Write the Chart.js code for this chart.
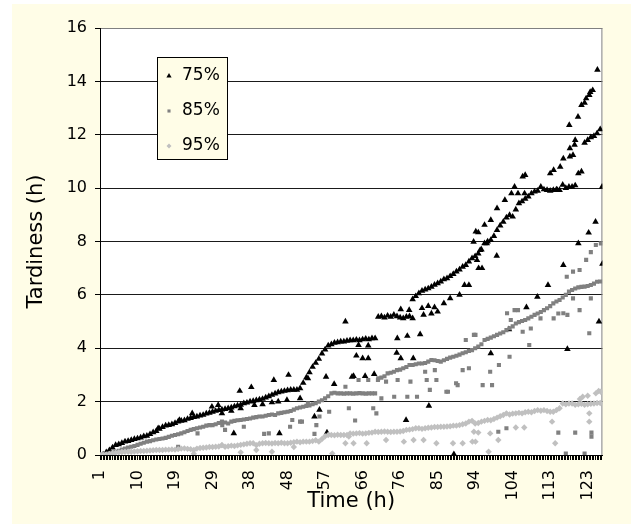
<!DOCTYPE html>
<html>
<head>
<meta charset="utf-8">
<script src="https://cdn.jsdelivr.net/npm/chart.js@4.4.1/dist/chart.umd.min.js"></script>
<style>
  html, body { margin: 0; padding: 0; background: #fff; }
  #wrap { width: 631px; height: 524px; }
</style>
</head>
<body>
<div id="wrap"><canvas id="chart" width="631" height="524"></canvas></div>
<script>
// ---- data (x = sample index, label shown every 12 samples) ----
const tickLabels = ['1', '10', '19', '29', '38', '48', '57', '66', '76', '85', '94', '104', '113', '123'];
const seriesNames = ['75%', '85%', '95%'];

// one value per sample index 0..160
const series75 = [
  0, 0.02, 0.1, 0.18, 0.28, 0.37, 0.4, 0.45, 0.5, 0.52,
  0.56, 0.6, 0.62, 0.65, 0.7, 0.72, 0.78, 0.85, 0.9, 0.98,
  1.05, 1.1, 1.12, 1.15, 1.2, 1.25, 1.28, 1.3, 1.35, 1.38,
  1.42, 1.44, 1.48, 1.5, 1.55, 1.58, 1.62, 1.65, 1.68, 1.7,
  1.72, 1.75, 1.78, 1.82, 1.85, 1.88, 1.94, 1.96, 2.0, 2.02,
  2.05, 2.08, 2.1, 2.15, 2.2, 2.25, 2.3, 2.35, 2.38, 2.4,
  2.42, 2.44, 2.44, 2.44, 2.5, 2.7, 2.9, 3.1, 3.3, 3.45,
  3.6, 3.8, 3.95, 4.1, 4.15, 4.2, 4.22, 4.25, 4.25, 4.28,
  4.3, 4.3, 4.32, 4.3, 4.33, 4.35, 4.33, 4.37, 4.37, 5.18,
  5.2, 5.15, 5.22, 5.18, 5.25, 5.2, 5.15, 5.12, 5.18, 5.2,
  5.83, 5.95, 6.06, 6.15, 6.2, 6.24, 6.3, 6.38, 6.43, 6.5,
  6.58, 6.62, 6.7, 6.78, 6.87, 6.95, 7.05, 7.12, 7.25, 7.37,
  7.45, 7.55, 7.7, 7.93, 8.0, 8.05, 8.2, 8.43, 8.6, 8.74,
  8.9, 8.99, 8.93, 9.2, 9.43, 9.5, 9.6, 9.68, 9.8, 9.87,
  9.9, 10.05, 9.95, 9.93, 9.9, 9.93, 9.95, 9.93, 10.12, 10.0,
  10.05, 10.05, 10.1, 10.55, 10.62, 11.7, 11.8, 11.9, 11.95, 12.05, 12.2
];
const series85 = [
  0, 0.02, 0.04, 0.06, 0.09, 0.12, 0.16, 0.2, 0.24, 0.28,
  0.31, 0.34, 0.38, 0.42, 0.46, 0.5, 0.52, 0.55, 0.58, 0.6,
  0.62, 0.64, 0.68, 0.72, 0.75, 0.78, 0.81, 0.85, 0.9, 0.94,
  0.97, 1.0, 1.03, 1.06, 1.1, 1.12, 1.12, 1.15, 1.2, 1.25,
  1.22, 1.18, 1.25, 1.28, 1.3, 1.31, 1.33, 1.35, 1.37, 1.4,
  1.42, 1.44, 1.44, 1.47, 1.5, 1.52, 1.5, 1.56, 1.58, 1.6,
  1.62, 1.65, 1.7, 1.75, 1.78, 1.81, 1.84, 1.86, 1.9, 1.94,
  2.0, 2.05, 2.12, 2.2, 2.31, 2.33, 2.31, 2.31, 2.3, 2.31,
  2.31, 2.3, 2.31, 2.32, 2.31, 2.3, 2.31, 2.31, 2.31, 2.87,
  2.9, 2.95, 3.06, 3.08, 3.12, 3.18, 3.2, 3.25, 3.3, 3.37,
  3.37, 3.4, 3.43, 3.43, 3.45, 3.5, 3.56, 3.55, 3.52, 3.5,
  3.55, 3.6, 3.65, 3.68, 3.72, 3.76, 3.81, 3.85, 3.9, 3.93,
  4.0, 4.06, 4.15, 4.31, 4.35, 4.4, 4.45, 4.5, 4.55, 4.6,
  4.68, 4.75, 4.82, 4.93, 4.98, 5.02, 5.06, 5.12, 5.18, 5.25,
  5.3, 5.36, 5.43, 5.5, 5.58, 5.68, 5.75, 5.81, 5.9, 6.0,
  6.12, 6.18, 6.24, 6.28, 6.3, 6.31, 6.33, 6.37, 6.42, 6.49, 6.5
];
const series95 = [
  0, 0.01, 0.02, 0.04, 0.06, 0.08, 0.1, 0.11, 0.12, 0.12,
  0.12, 0.13, 0.14, 0.15, 0.15, 0.16, 0.17, 0.18, 0.19, 0.19,
  0.19, 0.2, 0.2, 0.21, 0.2, 0.22, 0.24, 0.25, 0.23, 0.22,
  0.19, 0.24, 0.26, 0.27, 0.28, 0.3, 0.3, 0.31, 0.32, 0.37,
  0.31, 0.33, 0.35, 0.34, 0.36, 0.38, 0.4, 0.42, 0.44, 0.44,
  0.37, 0.42, 0.44, 0.45, 0.44, 0.43, 0.45, 0.44, 0.46, 0.44,
  0.44, 0.46, 0.48, 0.5, 0.48, 0.5, 0.5, 0.5, 0.52, 0.55,
  0.5, 0.6, 0.7, 0.75, 0.75, 0.74, 0.76, 0.75, 0.75, 0.75,
  0.81, 0.8, 0.81, 0.82, 0.8, 0.81, 0.83, 0.84, 0.87, 0.86,
  0.87, 0.88, 0.87, 0.86, 0.87, 0.87, 0.88, 0.9, 0.94, 0.95,
  0.97, 1.0, 1.0, 0.98, 1.0, 1.02, 1.03, 1.05, 1.05, 1.06,
  1.06, 1.07, 1.08, 1.1, 1.1, 1.12, 1.15, 1.18, 1.25, 1.28,
  1.18, 1.2, 1.25, 1.28, 1.31, 1.3, 1.35, 1.4, 1.45, 1.5,
  1.56, 1.52, 1.55, 1.56, 1.58, 1.56, 1.6, 1.62, 1.6, 1.65,
  1.68, 1.66, 1.68, 1.65, 1.62, 1.62, 1.68, 1.75, 1.93, 1.9,
  1.93, 1.93, 1.88, 1.9, 1.92, 1.88, 1.9, 1.92, 1.93, 1.95, 1.95
];

// scattered points off the main run: [sample index, value]
const extra75 = [
  [18.6, 1.0], [25.4, 1.31], [29.5, 1.56], [35.8, 1.81], [37.8, 1.87], [44.7, 2.4], [48.4, 2.54],
  [55.6, 2.81], [60.3, 3.0], [66.5, 2.87], [72.3, 2.93], [74.9, 2.66], [78.5, 5.0], [80.6, 2.93],
  [39, 1.56], [42, 1.65], [45, 1.75], [49.4, 1.87], [52, 1.9], [55, 1.97], [57, 2.0], [59.8, 2.06],
  [64, 2.12], [42.8, 0.81], [57.4, 0.81], [68.6, 1.44], [70.2, 1.69], [72.6, 0.84],
  [82, 3.72], [84, 3.62], [85.8, 3.62], [81.1, 2.96], [84.8, 2.96], [87.7, 3.03], [82.7, 4.12],
  [85.8, 4.1], [95.1, 4.37], [98.3, 4.46], [102.4, 4.52], [94.9, 3.83], [96.2, 3.62], [100.2, 3.62],
  [105.2, 1.84], [97.9, 1.31], [113.2, 0.03],
  [96.2, 5.46], [98.9, 5.43], [103, 5.5], [105, 5.58], [107, 5.53], [100, 5.12], [103.5, 5.25],
  [106, 5.3], [108, 5.37], [110, 5.68], [112, 5.87], [115, 6.0], [116.6, 6.37], [118, 6.37],
  [119.5, 7.99], [121, 8.34], [120.2, 8.37], [123, 8.62], [125, 8.8], [127, 9.24], [129.5, 9.55],
  [131.6, 9.8], [133.7, 9.8], [135.8, 9.8], [132.6, 10.05], [135.2, 10.43], [136, 10.49],
  [144, 10.55], [145.1, 10.68], [147.2, 10.8], [148.2, 11.11], [150.3, 11.18], [151.3, 11.24],
  [150.3, 11.49], [151.8, 11.62], [152, 11.8], [150.1, 12.36], [152.9, 12.67], [154, 13.11],
  [155, 13.2], [155.5, 13.36], [156.5, 13.49], [156.8, 13.6], [157.6, 13.67], [159.1, 14.43],
  [123.7, 7.93], [121.6, 7.68], [120.6, 7.3], [121.1, 7.0], [122.2, 7.0], [126.9, 7.46],
  [148.2, 7.12], [143.3, 6.37], [139.9, 5.93], [136.4, 5.53], [130.8, 4.71], [125, 3.81],
  [149.5, 3.97], [159.6, 5.0], [160.7, 7.16], [153, 7.93], [156.3, 8.33], [158.5, 8.74],
  [160.6, 10.05], [146.3, 9.93]
];
const extra85 = [
  [25, 0.31], [31.2, 0.81], [54, 0.81], [61.5, 1.31], [64.6, 1.25], [39.1, 1.12], [46, 1.06],
  [52.5, 0.79], [60.8, 1.06], [64, 1.25], [69.2, 1.12], [70.2, 1.44], [68.6, 0.79], [73.3, 1.62],
  [40, 0.94], [66.5, 1.94], [78.5, 2.56],
  [91.5, 2.75], [95.2, 2.81], [99.3, 2.75], [104.5, 2.81], [107.6, 2.81], [94.1, 2.18], [98.3, 2.18],
  [101.4, 2.18], [90, 2.12], [105.5, 2.44], [110.8, 2.37], [113.9, 2.69], [116, 3.18], [118, 3.25],
  [104, 3.12], [107.1, 3.18], [117, 4.31], [119.6, 4.5], [79.6, 1.75], [87.4, 1.75], [88.4, 1.56],
  [81.6, 1.29], [82.7, 2.81], [85.8, 2.81], [88.9, 2.81],
  [111.3, 2.37], [114.4, 2.62], [122.4, 2.62], [125.4, 2.62], [124.8, 3.12], [127.6, 3.37],
  [131, 3.68], [137.3, 4.12], [120.1, 4.5],
  [130.2, 5.31], [132.6, 5.43], [133.7, 5.43], [149.3, 6.68], [151.3, 6.87], [153.4, 6.93],
  [155.5, 7.31], [157, 7.6], [158.6, 7.87], [160.2, 7.93],
  [131.4, 5.06], [135.2, 4.62], [137.8, 4.74], [140.9, 5.12], [145.1, 5.12], [148.2, 5.31],
  [151.3, 5.87], [153.4, 5.43], [157, 5.87], [156.5, 4.56], [146.6, 5.3], [149.5, 5.25],
  [146.6, 0.84], [152, 0.84], [157.2, 0.84], [157.2, 0.69], [130, 1.0], [127.4, 0.87],
  [149, 0.05], [155, 0.05]
];
const extra95 = [
  [30, 0.05], [39, 0.37], [45, 0.1], [50, 0.19], [55, 0.12], [62, 0.3], [74.3, 0.06], [78.5, 0.44],
  [81.1, 0.44], [85.3, 0.44], [91.5, 0.56], [97.2, 0.5], [100.3, 0.56], [103.5, 0.56], [107.6, 0.44],
  [112.9, 0.44], [116, 0.44], [119.1, 0.5], [119.6, 0.87], [79.6, 0.69], [121, 0.84], [124.8, 0.81],
  [127.4, 0.56], [120.1, 0.5], [124.3, 0.12], [133, 1.03], [135.7, 1.03], [144.6, 1.25],
  [145.6, 0.44], [156.5, 1.56], [156.5, 1.25], [153.5, 2.1], [154.4, 2.18], [156, 2.22],
  [158.6, 2.31], [160.2, 2.37], [159.5, 2.4]
];

// ---- look ----
const CREAM = '#FFFDE7';
const FONT = 'DejaVu Sans';
const markers = [
  { style: 'triangle', radius: 3.8, legendRadius: 3, color: '#000000' },
  { style: 'rect', radius: 2.9, legendRadius: 2.2, color: '#808080' },
  { style: 'rectRot', radius: 3.2, legendRadius: 2.5, color: '#C0C0C0' }
];

function toPoints(main, extra) {
  const pts = main.map((y, i) => ({ x: i, y: y }));
  extra.forEach(p => pts.push({ x: p[0], y: p[1] }));
  return pts;
}

const allData = [toPoints(series75, extra75), toPoints(series85, extra85), toPoints(series95, extra95)];

const datasets = seriesNames.map((name, k) => ({
  label: name,
  data: allData[k],
  showLine: false,
  order: 3 - k,           // 95% drawn last, on top
  pointStyle: markers[k].style,
  pointRadius: markers[k].radius,
  pointBackgroundColor: markers[k].color,
  pointBorderWidth: 0
}));

// background, plot frame, legend box
const framePlugin = {
  id: 'frame',
  beforeDraw(chart) {
    const { ctx, chartArea: a } = chart;
    ctx.save();
    ctx.fillStyle = '#fff';
    ctx.fillRect(0, 0, chart.width, chart.height);
    ctx.fillStyle = CREAM;
    ctx.fillRect(12, 4, chart.width - 12, chart.height - 4);
    ctx.fillStyle = '#fff';
    ctx.fillRect(a.left, a.top, a.right - a.left, a.bottom - a.top);
    ctx.restore();
  },
  beforeDatasetsDraw(chart) {
    const { ctx, chartArea: a } = chart;
    ctx.save();
    ctx.strokeStyle = '#808080';
    ctx.lineWidth = 1;
    ctx.beginPath();
    ctx.moveTo(a.right - 0.5, a.top);
    ctx.lineTo(a.right - 0.5, a.bottom);
    ctx.stroke();
    ctx.restore();
  },
  afterDraw(chart) {
    const ctx = chart.ctx;
    ctx.save();
    ctx.fillStyle = CREAM;
    ctx.fillRect(157, 57, 71, 103);
    ctx.strokeStyle = '#000';
    ctx.lineWidth = 1;
    ctx.strokeRect(157.5, 57.5, 70, 102);
    ctx.font = '17px "' + FONT + '"';
    ctx.textBaseline = 'middle';
    ctx.textAlign = 'left';
    seriesNames.forEach((name, k) => {
      const y = 76 + k * 35;
      ctx.fillStyle = markers[k].color;
      Chart.helpers.drawPoint(ctx, { pointStyle: markers[k].style, radius: markers[k].legendRadius, rotation: 0, borderWidth: 0 }, 169, y);
      ctx.fillStyle = '#000';
      ctx.fillText(name, 182, y);
    });
    ctx.restore();
  }
};

new Chart(document.getElementById('chart'), {
  type: 'scatter',
  data: { datasets: datasets },
  plugins: [framePlugin],
  options: {
    responsive: false,
    animation: false,
    devicePixelRatio: 1,
    events: [],
    layout: { padding: { left: 12, top: 28, right: 16, bottom: 0 } },
    plugins: {
      legend: { display: false },
      tooltip: { enabled: false }
    },
    scales: {
      x: {
        type: 'linear',
        min: 0,
        max: 160.7,
        afterBuildTicks(scale) {
          const t = [];
          for (let k = 0; k <= 321; k++) t.push({ value: k / 2 });
          scale.ticks = t;
        },
        afterFit(scale) { scale.height = 69; },
        ticks: {
          autoSkip: false,
          minRotation: 90,
          maxRotation: 90,
          padding: 10,
          color: '#000',
          font: { family: FONT, size: 16 },
          callback: v => (v % 12 === 0 && tickLabels[v / 12] !== undefined) ? tickLabels[v / 12] : ''
        },
        grid: { drawOnChartArea: false, tickLength: 5, color: '#000', lineWidth: 1 },
        border: { color: '#000' },
        title: {
          display: true,
          text: 'Time (h)',
          color: '#000',
          font: { family: FONT, size: 21 },
          padding: { top: 0, bottom: 10 }
        }
      },
      y: {
        min: 0,
        max: 16,
        afterFit(scale) { scale.width = 88; },
        ticks: {
          stepSize: 2,
          padding: 8,
          color: '#000',
          font: { family: FONT, size: 16 }
        },
        grid: {
          color: c => c.tick && c.tick.value === 16 ? '#808080' : '#1a1a1a',
          tickColor: '#000',
          tickLength: 5,
          lineWidth: 1
        },
        border: { color: '#000' },
        title: {
          display: true,
          text: 'Tardiness (h)',
          color: '#000',
          font: { family: FONT, size: 21 },
          padding: { top: 12, bottom: 0 }
        }
      }
    }
  }
});
</script>
</body>
</html>
